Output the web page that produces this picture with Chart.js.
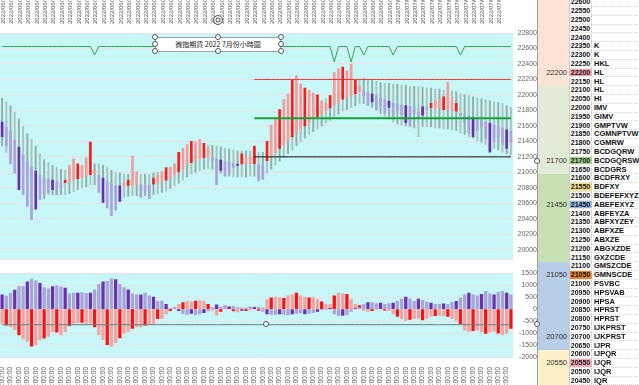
<!DOCTYPE html>
<html>
<head>
<meta charset="utf-8">
<script src="https://cdn.jsdelivr.net/npm/chart.js@4.4.0/dist/chart.umd.min.js"></script>
<style>
body { margin:0; width:639px; height:385px; overflow:hidden; background:#fff; position:relative; font-family:"Liberation Sans", Arial, sans-serif; }
#topChart { position:absolute; left:0; top:0; }
#botChart { position:absolute; left:0; top:266px; }
.box { position:absolute; left:155px; top:37px; width:126px; height:15px; background:#fff; border:1px solid #a0a0a0; box-sizing:border-box; font:7px "Noto Sans CJK TC", sans-serif; line-height:13px; text-align:center; color:#222; white-space:nowrap; }
.hd { position:absolute; width:6px; height:6px; border:1px solid #555; border-radius:50%; background:#fff; box-sizing:border-box; }
.rot { position:absolute; left:213px; top:15px; width:10px; height:10px; border:1px solid #555; border-radius:50%; background:#fff; box-sizing:border-box; box-shadow: inset 0 0 0 1.5px #fff, inset 0 0 0 2.5px #555; }
#profile { position:absolute; left:537px; top:0; width:102px; height:385px; overflow:hidden; background:#fff; border-left:1px solid #9c9c9c; box-sizing:border-box; }
.blk { position:absolute; left:0; width:31px; }
.blab { position:absolute; left:0; width:29px; text-align:right; font:7.5px "Liberation Sans", Arial, sans-serif; color:#333; line-height:8.8px; }
.row { position:absolute; left:31px; width:71px; height:8.8px; border-bottom:1px dotted #d6d6d6; box-sizing:border-box; }
.pc { position:absolute; left:0; top:0; width:23px; height:100%; text-align:center; font:bold 7px "Liberation Sans", Arial, sans-serif; line-height:8.4px; color:#111; border-left:1px solid #c8c8c8; border-right:1px dotted #c8c8c8; box-sizing:border-box; }
.lt { position:absolute; left:25px; top:0; font:bold 7.5px "Liberation Sans", Arial, sans-serif; line-height:8.4px; color:#111; white-space:nowrap; }
</style>
</head>
<body>
<canvas id="topChart" width="537" height="267"></canvas>
<canvas id="botChart" width="537" height="119"></canvas>
<div id="profile"></div>
<div class="box">微指期貨 2022 7月份小時圖</div>
<div class="rot"></div>
<script>
// top x labels (one per two bars)
var dateTicks = [
    '2022/06/13', '2022/06/13', '2022/06/13', '2022/06/14', '2022/06/14', '2022/06/14', '2022/06/15', '2022/06/15',
    '2022/06/16', '2022/06/16', '2022/06/16', '2022/06/16', '2022/06/17', '2022/06/17', '2022/06/17', '2022/06/18',
    '2022/06/18', '2022/06/20', '2022/06/20', '2022/06/21', '2022/06/21', '2022/06/21', '2022/06/21', '2022/06/22',
    '2022/06/22', '2022/06/22', '2022/06/22', '2022/06/23', '2022/06/23', '2022/06/23', '2022/06/24', '2022/06/24',
    '2022/06/24', '2022/06/25', '2022/06/25', '2022/06/27', '2022/06/27', '2022/06/27', '2022/06/28', '2022/06/28',
    '2022/06/28', '2022/06/28', '2022/06/29', '2022/06/29', '2022/06/29', '2022/06/30', '2022/06/30', '2022/06/30',
    '2022/07/01', '2022/07/01', '2022/07/04', '2022/07/04', '2022/07/04', '2022/07/05', '2022/07/05', '2022/07/06',
    '2022/07/06', '2022/07/06', '2022/07/06', '2022/07/07', '2022/07/07'
];
// bottom x labels (one per two bars)
var hourTicks = [
    '11', '15', '20', '01', '09', '12', '17', '22', '03', '10', '15', '20', '01', '09', '13', '18', '23', '04',
    '11', '16', '21', '02', '09', '13', '18', '23', '04', '11', '16', '21', '02', '09', '13', '18', '23', '04',
    '11', '16', '21', '02', '09', '13', '18', '23', '04', '11', '16', '21', '02', '09', '13', '18', '23', '04',
    '11', '16', '21', '02', '09', '13', '18'
];

var bandTop = [
    21960, 21910, 21860, 21775, 21690, 21590, 21500, 21425, 21340, 21240,
    21160, 21125, 21090, 21060, 21040, 21025, 21040, 21050, 21060, 21075,
    21090, 21100, 21110, 21110, 21090, 21060, 21025, 21000, 20990, 20975,
    20975, 20975, 20975, 20975, 20975, 20975, 20990, 21000, 21010, 21040,
    21060, 21100, 21150, 21190, 21240, 21275, 21300, 21325, 21340, 21350,
    21350, 21340, 21325, 21310, 21300, 21290, 21275, 21275, 21275, 21275,
    21275, 21260, 21260, 21310, 21375, 21425, 21475, 21525, 21575, 21625,
    21675, 21725, 21760, 21800, 21840, 21875, 21910, 21950, 21990, 22025,
    22060, 22100, 22125, 22150, 22175, 22200, 22210, 22200, 22190, 22175,
    22160, 22150, 22150, 22140, 22140, 22125, 22125, 22110, 22110, 22100,
    22100, 22090, 22090, 22075, 22075, 22060, 22060, 22050, 22040, 22010,
    22000, 21990, 21975, 21960, 21950, 21940, 21925, 21910, 21900, 21890,
    21860, 21840
];
var bandBottom = [
    21340, 21260, 21190, 21060, 20960, 20860, 20775, 20710, 20690, 20675,
    20660, 20710, 20710, 20710, 20710, 20710, 20725, 20750, 20775, 20800,
    20810, 20840, 20840, 20810, 20760, 20710, 20675, 20660, 20660, 20675,
    20690, 20700, 20700, 20700, 20700, 20700, 20710, 20725, 20740, 20760,
    20790, 20825, 20860, 20900, 20940, 20975, 21000, 21025, 21040, 21050,
    21040, 21010, 20990, 20960, 20950, 20940, 20940, 20940, 20940, 20950,
    20950, 20940, 20940, 20990, 21040, 21090, 21140, 21190, 21240, 21290,
    21340, 21390, 21440, 21490, 21525, 21560, 21600, 21640, 21675, 21710,
    21750, 21790, 21810, 21840, 21860, 21890, 21890, 21860, 21840, 21800,
    21760, 21725, 21690, 21650, 21625, 21610, 21600, 21590, 21575, 21460,
    21590, 21590, 21590, 21575, 21575, 21560, 21560, 21550, 21540, 21510,
    21490, 21460, 21440, 21410, 21390, 21360, 21340, 21310, 21290, 21260,
    21240, 21225
];
var closes = [
    21460, 21340, 21110, 20990, 20775, 20710, 20560, 20390, 20525, 20650,
    20710, 20740, 20775, 20710, 20800, 20900, 21090, 21175, 21110, 21090,
    21190, 21390, 21025, 20740, 20610, 20540, 20440, 20510, 20625, 20860,
    20900, 21210, 21010, 20675, 20760, 20660, 20925, 20960, 21010, 21060,
    21060, 21110, 21260, 21310, 21360, 21400, 21390, 21425, 21375, 21310,
    21150, 20840, 21025, 20950, 21000, 21060, 21090, 21240, 21190, 21210,
    21340, 20890, 20910, 21400, 21610, 21710, 21810, 21940, 22010, 22190,
    22250, 22140, 22090, 22060, 22025, 22000, 21925, 21890, 21990, 22290,
    22340, 22360, 22310, 22400, 22190, 22110, 21990, 21860, 21910, 21810,
    21860, 21760, 21840, 21690, 21800, 21740, 21640, 21600, 21760, 21690,
    21740, 21810, 21890, 21925, 21950, 21975, 22160, 21960, 21890, 21740,
    21640, 21510, 21460, 21540, 21590, 21440, 21260, 21400, 21460, 21360,
    21310, 21390
];
var purpleHist = [
    600, 540, 670, 800, 940, 940, 1140, 1250, 1180, 1075,
    900, 850, 940, 980, 930, 880, 640, 670, 670, 680,
    660, 670, 805, 1030, 1140, 1160, 1275, 1230, 1040, 900,
    805, 640, 600, 600, 670, 560, 500, 320, 335, 200,
    30, 50, -60, -200, -220, -180, -240, -200, -150, -80,
    60, 180, 80, 150, 100, 120, 60, -50, 40, 100,
    60, 80, -100, -200, -220, -220, -200, -220, -240, -200,
    -180, -160, -200, -180, -150, -100, -30, -20, 30, -200,
    -270, -260, -240, -100, 20, 60, 200, 270, 270, 230,
    250, 200, 230, 250, 340, 420, 500, 430, 330, 420,
    370, 300, 250, 200, 200, 220, 200, 280, 330, 470,
    600, 670, 600, 560, 620, 740, 650, 600, 700, 740,
    670, 600
];
var redHist = [
    -600, -670, -740, -870, -1075, -1250, -1345, -1545, -1480, -1275,
    -1210, -1140, -940, -960, -1075, -940, -690, -600, -570, -560,
    -600, -600, -740, -1075, -1275, -1480, -1545, -1400, -1200, -1000,
    -940, -805, -740, -740, -670, -640, -605, -400, -400, -200,
    -70, 80, 200, 270, 330, 300, 340, 360, 320, 200,
    -50, -250, -100, 150, 80, -80, -120, 50, -60, -30,
    100, -50, 60, 400, 470, 500, 470, 450, 560, 600,
    670, 560, 500, 470, 470, 400, 300, 200, 200, 560,
    670, 640, 620, 400, 200, 150, -70, -100, -60, -20,
    20, -40, -60, -200, -300, -400, -470, -430, -400, -380,
    -450, -400, -300, -270, -260, -270, -300, -400, -470, -605,
    -875, -940, -900, -880, -950, -1010, -950, -920, -1000, -1075,
    -1000, -805
];

var signalBase = 22625;
var dipIndex = [22, 79, 83, 86, 93, 109];
var dipValue = [22515, 22425, 22425, 22515, 22515, 22515];
var levelStart = 60;
var levelRed = 22200, levelGreen = 21700, levelBlack = 21200;
var guideLevel = -650;

var profilePrices = [
    22600, 22550, 22500, 22450, 22400, 22350, 22300, 22250, 22200, 22150, 22100,
    22050, 22000, 21950, 21900, 21850, 21800, 21750, 21700, 21650, 21600, 21550,
    21500, 21450, 21400, 21350, 21300, 21250, 21200, 21150, 21100, 21050, 21000,
    20950, 20900, 20850, 20800, 20750, 20700, 20650, 20600, 20550, 20500, 20450
];
var profileLetters = [
    '', '', '', '', '', 'K', 'K', 'HKL', 'HL', 'HL', 'HL',
    'HI', 'IMV', 'GIMV', 'GMPTVW', 'CGMNPTVW', 'CGMRW', 'BCDGQRW', 'BCDGQRSW', 'BCDGRS', 'BCDFRXY', 'BDFXY',
    'BDEFEFXYZ', 'ABEFEXYZ', 'ABFEYZA', 'ABFXYZEY', 'ABFXZE', 'ABXZE', 'ABGXZDE', 'GXZCDE', 'GMSZCDE', 'GMNSCDE', 'PSVBC',
    'HPSVAB', 'HPSA', 'HPRST', 'HPRST', 'IJKPRST', 'IJKPRST', 'IJPR', 'IJPQR', 'IJQR', 'IJQR', 'IQR'
];
var highlightPrices = [22200, 21700, 21550, 21450, 21050, 20550];
var highlightColors = ['#f4a3ab', '#a3d18a', '#ffe08a', '#8db4e2', '#e9822f', '#f5a9b8'];
var blockFrom = [22600, 22100, 21600, 21100, 20600];
var blockTo = [22150, 21650, 21150, 20650, 20450];
var blockColors = ['#fbe4d5', '#e2ebd8', '#c6e0b4', '#b8cde8', '#fdf1c9'];
var blockLabels = [22200, 21700, 21450, 21050, 20700, 20550];

var plotBg = {
    id: 'plotBg',
    beforeDraw: function (chart) {
        var a = chart.chartArea, ctx = chart.ctx;
        ctx.save();
        ctx.fillStyle = '#c8f7f7';
        ctx.fillRect(a.left, a.top, a.right - a.left, a.bottom - a.top);
        ctx.restore();
    }
};

InitTopChart();
InitBottomChart();
InitProfile();
InitHandles();

// keep the plot flush with the left edge like the original
function fitX(height) {
    return function (s) {
        s.height = height;
        s.paddingLeft = 0;
        s.paddingRight = 0;
    };
}

function InitTopChart() {
    var labels = bandTop.map(function (v, i) { return i % 2 === 0 ? dateTicks[i / 2] : ''; });
    var mids = bandTop.map(function (v, i) { return (v + bandBottom[i]) / 2; });
    var bodies = closes.map(function (c, i) { return [mids[i], c]; });
    var bodyColors = closes.map(function (c, i) {
        if (c >= mids[i]) return i % 3 === 0 ? '#ff1a1a' : '#f79a9a';
        return i % 4 === 0 ? '#6a2db0' : '#aba3d9';
    });
    var bands = bandTop.map(function (v, i) { return [bandBottom[i], v]; });
    var bandColors = bandTop.map(function (v, i) { return i % 2 === 0 ? '#8fb0aa' : '#a9c4bf'; });
    var signal = bandTop.map(function () { return signalBase; });
    dipIndex.forEach(function (k, j) { signal[k] = dipValue[j]; });
    function level(v) { return bandTop.map(function (x, i) { return i >= levelStart ? v : null; }); }
    function lineSet(data, color, width) {
        return { type: 'line', data: data, borderColor: color, borderWidth: width, pointRadius: 0, tension: 0, order: 0 };
    }

    new Chart(document.getElementById('topChart'), {
        type: 'bar',
        data: {
            labels: labels,
            datasets: [
                lineSet(signal, '#2fa84f', 1),
                lineSet(level(levelRed), '#f03030', 1),
                lineSet(level(levelGreen), '#18a038', 2),
                lineSet(level(levelBlack), '#111111', 1),
                { data: bodies, backgroundColor: bodyColors, barThickness: 2, grouped: false, order: 1 },
                { data: bands, backgroundColor: bandColors, barThickness: 1.3, grouped: false, order: 2 }
            ]
        },
        options: {
            responsive: false,
            animation: false,
            events: [],
            layout: { padding: 0 },
            plugins: { legend: { display: false }, tooltip: { enabled: false } },
            scales: {
                x: {
                    position: 'top', offset: true,
                    grid: { display: false }, border: { display: false },
                    ticks: { autoSkip: false, minRotation: 90, maxRotation: 90, padding: 1, color: '#555', font: { size: 6 } },
                    afterFit: fitX(33)
                },
                y: {
                    position: 'right', min: 19870, max: 22800,
                    grid: { color: '#f0dfe8', drawTicks: false }, border: { display: false },
                    ticks: {
                        stepSize: 200, padding: 3, crossAlign: 'far', color: '#666', font: { size: 7 },
                        callback: function (v) { return v % 200 === 0 ? String(v) : ''; }
                    },
                    afterFit: function (s) { s.width = 24; }
                }
            }
        },
        plugins: [plotBg]
    });
}

function InitBottomChart() {
    var labels = purpleHist.map(function (v, i) { return i % 2 === 0 ? hourTicks[i / 2] + ':00:00' : ''; });
    var purpleColors = purpleHist.map(function (v, i) { return i % 3 === 0 ? '#6b2fb0' : '#a9a3d6'; });
    var redColors = redHist.map(function (v, i) { return i % 3 === 1 ? '#ff1010' : '#f4a3a3'; });
    var guide = purpleHist.map(function () { return guideLevel; });

    new Chart(document.getElementById('botChart'), {
        type: 'bar',
        data: {
            labels: labels,
            datasets: [
                { type: 'line', data: guide, borderColor: '#6c7a7a', borderWidth: 1, pointRadius: 0, order: 0 },
                { data: purpleHist, backgroundColor: purpleColors, barThickness: 2.6, grouped: false, order: 1 },
                { data: redHist, backgroundColor: redColors, barThickness: 2.6, grouped: false, order: 2 }
            ]
        },
        options: {
            responsive: false,
            animation: false,
            events: [],
            layout: { padding: { top: 4 } },
            plugins: { legend: { display: false }, tooltip: { enabled: false } },
            scales: {
                x: {
                    position: 'bottom', offset: true,
                    grid: { display: false }, border: { display: false },
                    ticks: { autoSkip: false, minRotation: 90, maxRotation: 90, padding: 2, color: '#555', font: { size: 6.5 } },
                    afterFit: fitX(28)
                },
                y: {
                    position: 'right', min: -2000, max: 1500,
                    grid: { color: '#f0dfe8', drawTicks: false }, border: { display: false },
                    ticks: {
                        stepSize: 500, padding: 3, crossAlign: 'far', color: '#666', font: { size: 7 },
                        callback: function (v) { return String(v); }
                    },
                    afterFit: function (s) { s.width = 24; }
                }
            }
        },
        plugins: [plotBg]
    });
}

function InitProfile() {
    var prof = document.getElementById('profile');
    var rowH = 8.8, top0 = -1.7;
    function rowOf(p) { return profilePrices.indexOf(p); }

    blockFrom.forEach(function (p, k) {
        var r0 = rowOf(p), r1 = rowOf(blockTo[k]);
        var d = document.createElement('div');
        d.className = 'blk';
        d.style.top = (top0 + r0 * rowH) + 'px';
        d.style.height = ((r1 - r0 + 1) * rowH) + 'px';
        d.style.background = blockColors[k];
        prof.appendChild(d);
    });
    blockLabels.forEach(function (p) {
        var d = document.createElement('div');
        d.className = 'blab';
        d.style.top = (top0 + rowOf(p) * rowH) + 'px';
        d.textContent = p;
        prof.appendChild(d);
    });
    profilePrices.forEach(function (p, r) {
        var row = document.createElement('div');
        row.className = 'row';
        row.style.top = (top0 + r * rowH) + 'px';
        var pc = document.createElement('div');
        pc.className = 'pc';
        pc.textContent = p;
        var h = highlightPrices.indexOf(p);
        if (h >= 0) pc.style.background = highlightColors[h];
        var lt = document.createElement('div');
        lt.className = 'lt';
        lt.textContent = profileLetters[r];
        row.appendChild(pc);
        row.appendChild(lt);
        prof.appendChild(row);
    });
}

function InitHandles() {
    // selection handles of the drawn objects
    var spots = [[155, 37], [218, 37], [281, 37], [155, 44], [281, 44], [155, 51], [218, 51], [281, 51],
                 [537, 161], [537, 324], [266, 324]];
    spots.forEach(function (s) {
        var d = document.createElement('div');
        d.className = 'hd';
        d.style.left = (s[0] - 3) + 'px';
        d.style.top = (s[1] - 3) + 'px';
        document.body.appendChild(d);
    });
}
</script>
</body>
</html>
